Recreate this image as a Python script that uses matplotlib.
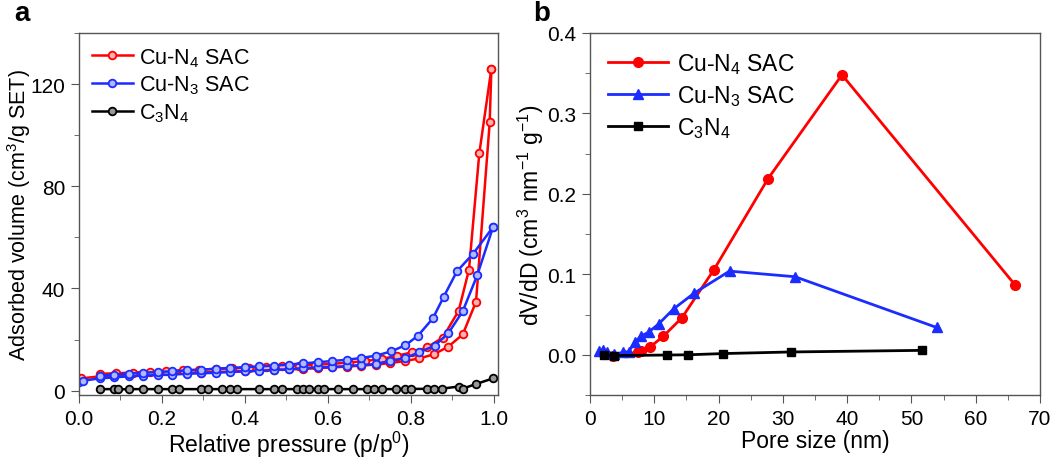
import matplotlib
matplotlib.use("Agg")
import matplotlib.pyplot as plt
from matplotlib.ticker import MultipleLocator

plt.rcParams['font.family'] = ['Liberation Sans', 'DejaVu Sans']
plt.rcParams['mathtext.fontset'] = 'custom'
plt.rcParams['mathtext.rm'] = 'Liberation Sans'
plt.rcParams['mathtext.it'] = 'Liberation Sans'

# ---- panel a: N2 isotherms (adsorption + desorption branches) ----
p_n4_ads = [0.005, 0.05, 0.085, 0.12, 0.155, 0.19, 0.225, 0.26, 0.295, 0.33, 0.365, 0.40,
            0.435, 0.47, 0.505, 0.54, 0.575, 0.61, 0.645, 0.68, 0.715, 0.75, 0.785, 0.82,
            0.855, 0.89, 0.925, 0.957, 0.99, 0.994]
v_n4_ads = [4.8, 5.6, 5.9, 6.1, 6.3, 6.5, 6.7, 6.9, 7.1, 7.3, 7.5, 7.7,
            7.9, 8.1, 8.3, 8.5, 8.8, 9.1, 9.4, 9.8, 10.2, 10.8, 11.6, 12.6,
            14.2, 17.2, 22.0, 34.8, 105.0, 126.0]
p_n4_des = [0.994, 0.965, 0.94, 0.915, 0.877, 0.839, 0.803, 0.767, 0.73, 0.69, 0.65,
            0.61, 0.57, 0.53, 0.49, 0.45, 0.41, 0.37, 0.33, 0.29, 0.25, 0.21, 0.17,
            0.13, 0.09, 0.05]
v_n4_des = [126.0, 93.0, 47.3, 31.2, 20.8, 16.9, 15.0, 13.7, 12.4, 11.6, 11.0,
            10.5, 10.1, 9.8, 9.5, 9.2, 9.0, 8.7, 8.5, 8.2, 8.0, 7.7, 7.4,
            7.1, 6.8, 6.6]

p_n3_ads = [0.0, 0.01, 0.05, 0.085, 0.12, 0.155, 0.19, 0.225, 0.26, 0.295, 0.33, 0.365,
            0.40, 0.435, 0.47, 0.505, 0.54, 0.575, 0.61, 0.645, 0.68, 0.715, 0.75,
            0.787, 0.82, 0.857, 0.89, 0.925, 0.96, 0.998]
v_n3_ads = [3.3, 3.9, 4.8, 5.2, 5.6, 5.9, 6.1, 6.3, 6.6, 6.8, 7.0, 7.3,
            7.5, 7.8, 8.1, 8.4, 8.8, 9.1, 9.3, 9.6, 10.0, 10.4, 11.7,
            12.8, 15.0, 17.6, 22.4, 31.1, 45.2, 64.0]
p_n3_des = [0.998, 0.95, 0.911, 0.879, 0.853, 0.817, 0.787, 0.753, 0.716, 0.68, 0.646,
            0.61, 0.575, 0.54, 0.505, 0.47, 0.435, 0.40, 0.365, 0.33, 0.295, 0.26,
            0.225, 0.19, 0.155, 0.12, 0.085, 0.05]
v_n3_des = [64.0, 53.6, 46.7, 36.7, 28.3, 21.5, 17.8, 15.4, 13.7, 12.8, 12.1,
            11.6, 11.1, 10.7, 10.2, 9.8, 9.5, 9.2, 8.9, 8.6, 8.2, 7.9,
            7.6, 7.3, 7.0, 6.7, 6.3, 5.8]

p_c3n4 = [0.05, 0.085, 0.095, 0.12, 0.155, 0.19, 0.225, 0.24, 0.295, 0.31, 0.345, 0.365,
          0.38, 0.435, 0.47, 0.49, 0.525, 0.54, 0.555, 0.575, 0.59, 0.625, 0.66, 0.695,
          0.71, 0.73, 0.765, 0.785, 0.80, 0.84, 0.855, 0.875, 0.915, 0.925, 0.957, 0.998]
v_c3n4 = [0.6, 0.6, 0.5, 0.6, 0.6, 0.6, 0.6, 0.6, 0.6, 0.6, 0.6, 0.6,
          0.6, 0.6, 0.6, 0.6, 0.6, 0.6, 0.6, 0.6, 0.6, 0.6, 0.6, 0.6,
          0.6, 0.6, 0.6, 0.7, 0.7, 0.7, 0.7, 0.8, 1.6, 0.8, 2.6, 4.8]

# ---- panel b: pore size distribution ----
d_n4 = [2.2, 3.6, 7.4, 8.0, 9.4, 11.4, 14.3, 19.3, 27.7, 39.2, 66.1]
dv_n4 = [0.001, -0.001, 0.003, 0.005, 0.010, 0.023, 0.046, 0.106, 0.219, 0.348, 0.087]
d_n3 = [1.45, 2.0, 2.6, 3.8, 5.2, 6.0, 7.0, 7.9, 9.1, 10.7, 13.0, 16.2, 21.7, 31.9, 53.9]
dv_n3 = [0.0045, 0.006, 0.003, 0.001, 0.003, 0.004, 0.0157, 0.023, 0.028, 0.0385,
         0.057, 0.0766, 0.104, 0.097, 0.034]
d_c3n4 = [2.1, 3.8, 12.0, 15.3, 20.7, 31.3, 51.7]
dv_c3n4 = [0.0, -0.001, -0.0003, 0.0, 0.0015, 0.0035, 0.0055]

red = '#ff0000'
blue = '#1a2cff'
fs_tick = 15
fs_lab = 16.5

fig = plt.figure(figsize=(10.56, 4.64), dpi=100)
ax1 = fig.add_axes([79 / 1056, 1 - 396 / 464, 419 / 1056, 362 / 464])
ax2 = fig.add_axes([590 / 1056, 1 - 396 / 464, 450 / 1056, 362 / 464])

mk = dict(marker='o', markersize=5.5, markeredgewidth=1.3, linewidth=1.8)
ax1.plot(p_n4_ads, v_n4_ads, color=red, markerfacecolor='#ffb0b0', label='Cu-N$_4$ SAC', **mk)
ax1.plot(p_n4_des, v_n4_des, color=red, markerfacecolor='#ffb0b0', **mk)
ax1.plot(p_n3_ads, v_n3_ads, color=blue, markerfacecolor='#b0b8ff', label='Cu-N$_3$ SAC', **mk)
ax1.plot(p_n3_des, v_n3_des, color=blue, markerfacecolor='#b0b8ff', **mk)
ax1.plot(p_c3n4, v_c3n4, color='black', markerfacecolor='#999999', label='C$_3$N$_4$', **mk)

ax1.set_xlim(0, 1.01)
ax1.set_ylim(-1.7, 140)
ax1.xaxis.set_major_locator(MultipleLocator(0.2))
ax1.xaxis.set_minor_locator(MultipleLocator(0.1))
ax1.yaxis.set_major_locator(MultipleLocator(40))
ax1.yaxis.set_minor_locator(MultipleLocator(20))
ax1.set_xlabel('Relative pressure (p/p$^0$)', fontsize=fs_lab, labelpad=1)
ax1.set_ylabel('Adsorbed volume (cm$^3$/g SET)', fontsize=15.5)
ax1.yaxis.set_label_coords(-0.11, 0.5)
ax1.legend(loc='upper left', frameon=False, fontsize=15.5, handlelength=1.9,
           handletextpad=0.3, labelspacing=0.25, borderaxespad=0.2)

ax2.plot(d_n4, dv_n4, color=red, marker='o', markersize=7, linewidth=2, label='Cu-N$_4$ SAC')
ax2.plot(d_n3, dv_n3, color=blue, marker='^', markersize=7, linewidth=2, label='Cu-N$_3$ SAC')
ax2.plot(d_c3n4, dv_c3n4, color='black', marker='s', markersize=6, linewidth=2, label='C$_3$N$_4$')

ax2.set_xlim(0, 70)
ax2.set_ylim(-0.05, 0.4)
ax2.xaxis.set_major_locator(MultipleLocator(10))
ax2.xaxis.set_minor_locator(MultipleLocator(5))
ax2.yaxis.set_major_locator(MultipleLocator(0.1))
ax2.yaxis.set_minor_locator(MultipleLocator(0.05))
ax2.yaxis.set_major_formatter(plt.FormatStrFormatter('%.1f'))
ax2.set_xlabel('Pore size (nm)', fontsize=fs_lab, labelpad=1)
ax2.set_ylabel('dV/dD (cm$^3$ nm$^{-1}$ g$^{-1}$)', fontsize=fs_lab)
ax2.yaxis.set_label_coords(-0.098, 0.5)
ax2.legend(loc='upper left', frameon=False, fontsize=16.5, handlelength=2.6,
           handletextpad=0.4, labelspacing=0.3, borderaxespad=0.4)

for ax in (ax1, ax2):
    for s in ax.spines.values():
        s.set_color('#555555')
        s.set_linewidth(1.0)
    ax.tick_params(which='both', direction='out', color='#555555', labelsize=fs_tick,
                   top=False, right=False, pad=4)
    ax.tick_params(which='major', length=6)
    ax.tick_params(which='minor', length=3.5)

fig.text(14 / 1056, 1 - 14 / 464, 'a', fontsize=20, fontweight='bold', va='center')
fig.text(533 / 1056, 1 - 14 / 464, 'b', fontsize=20, fontweight='bold', va='center')

fig.savefig('out.png', dpi=100)
